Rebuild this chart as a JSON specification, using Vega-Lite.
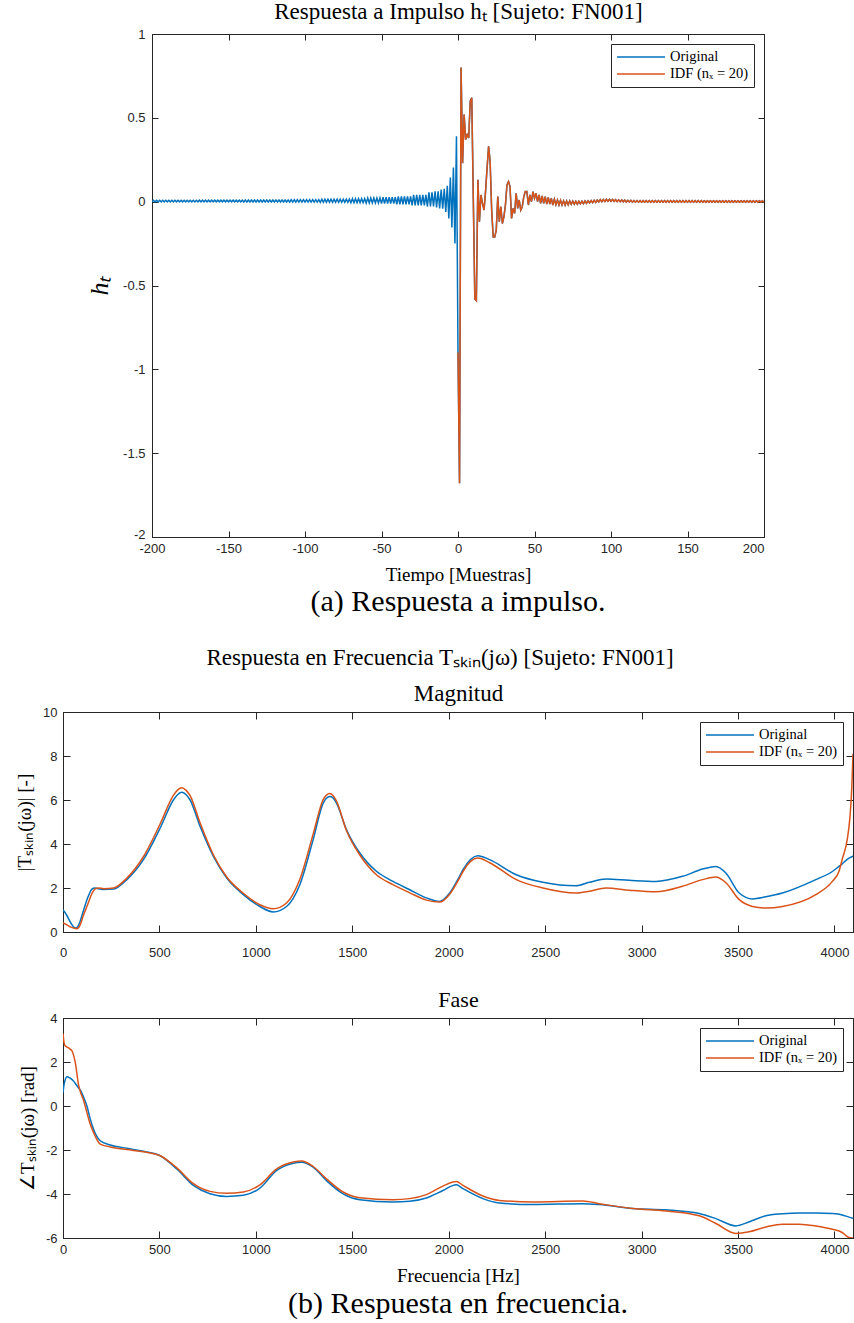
{
"$schema": "https://vega.github.io/schema/vega-lite/v6.json",
"padding": {"left": 15, "top": 0, "right": 0, "bottom": 0},
"background": "white",
"center": true,
"spacing": 28,
"datasets": {
"imp": [
{"t":-200,"o":-0.001},{"t":-199,"o":0.008},{"t":-198,"o":-0.001},{"t":-197,"o":0.008},{"t":-196,"o":-0.001},{"t":-195,"o":0.008},{"t":-194,"o":-0.001},{"t":-193,"o":0.008},{"t":-192,"o":-0.001},{"t":-191,"o":0.008},
{"t":-190,"o":-0.001},{"t":-189,"o":0.008},{"t":-188,"o":-0.001},{"t":-187,"o":0.008},{"t":-186,"o":-0.001},{"t":-185,"o":0.008},{"t":-184,"o":-0.001},{"t":-183,"o":0.008},{"t":-182,"o":-0.001},{"t":-181,"o":0.008},
{"t":-180,"o":-0.001},{"t":-179,"o":0.008},{"t":-178,"o":-0.001},{"t":-177,"o":0.008},{"t":-176,"o":-0.001},{"t":-175,"o":0.008},{"t":-174,"o":-0.001},{"t":-173,"o":0.008},{"t":-172,"o":-0.001},{"t":-171,"o":0.008},
{"t":-170,"o":-0.001},{"t":-169,"o":0.009},{"t":-168,"o":-0.001},{"t":-167,"o":0.009},{"t":-166,"o":-0.001},{"t":-165,"o":0.009},{"t":-164,"o":-0.001},{"t":-163,"o":0.009},{"t":-162,"o":-0.001},{"t":-161,"o":0.009},
{"t":-160,"o":-0.001},{"t":-159,"o":0.009},{"t":-158,"o":-0.001},{"t":-157,"o":0.009},{"t":-156,"o":-0.001},{"t":-155,"o":0.009},{"t":-154,"o":-0.001},{"t":-153,"o":0.009},{"t":-152,"o":-0.001},{"t":-151,"o":0.009},
{"t":-150,"o":-0.001},{"t":-149,"o":0.009},{"t":-148,"o":-0.001},{"t":-147,"o":0.009},{"t":-146,"o":-0.001},{"t":-145,"o":0.009},{"t":-144,"o":-0.001},{"t":-143,"o":0.009},{"t":-142,"o":-0.001},{"t":-141,"o":0.009},
{"t":-140,"o":-0.002},{"t":-139,"o":0.01},{"t":-138,"o":-0.002},{"t":-137,"o":0.01},{"t":-136,"o":-0.002},{"t":-135,"o":0.01},{"t":-134,"o":-0.002},{"t":-133,"o":0.01},{"t":-132,"o":-0.002},{"t":-131,"o":0.01},
{"t":-130,"o":-0.002},{"t":-129,"o":0.01},{"t":-128,"o":-0.002},{"t":-127,"o":0.01},{"t":-126,"o":-0.002},{"t":-125,"o":0.01},{"t":-124,"o":-0.002},{"t":-123,"o":0.01},{"t":-122,"o":-0.002},{"t":-121,"o":0.01},
{"t":-120,"o":-0.002},{"t":-119,"o":0.01},{"t":-118,"o":-0.002},{"t":-117,"o":0.01},{"t":-116,"o":-0.002},{"t":-115,"o":0.01},{"t":-114,"o":-0.002},{"t":-113,"o":0.01},{"t":-112,"o":-0.002},{"t":-111,"o":0.01},
{"t":-110,"o":-0.003},{"t":-109,"o":0.012},{"t":-108,"o":-0.003},{"t":-107,"o":0.012},{"t":-106,"o":-0.003},{"t":-105,"o":0.012},{"t":-104,"o":-0.003},{"t":-103,"o":0.012},{"t":-102,"o":-0.003},{"t":-101,"o":0.012},
{"t":-100,"o":-0.003},{"t":-99,"o":0.012},{"t":-98,"o":-0.003},{"t":-97,"o":0.012},{"t":-96,"o":-0.003},{"t":-95,"o":0.012},{"t":-94,"o":-0.003},{"t":-93,"o":0.012},{"t":-92,"o":-0.003},{"t":-91,"o":0.012},
{"t":-90,"o":-0.004},{"t":-89,"o":0.015},{"t":-88,"o":-0.004},{"t":-87,"o":0.015},{"t":-86,"o":-0.004},{"t":-85,"o":0.015},{"t":-84,"o":-0.004},{"t":-83,"o":0.015},{"t":-82,"o":-0.004},{"t":-81,"o":0.015},
{"t":-80,"o":-0.004},{"t":-79,"o":0.015},{"t":-78,"o":-0.004},{"t":-77,"o":0.015},{"t":-76,"o":-0.004},{"t":-75,"o":0.015},{"t":-74,"o":-0.004},{"t":-73,"o":0.015},{"t":-72,"o":-0.004},{"t":-71,"o":0.015},
{"t":-70,"o":-0.006},{"t":-69,"o":0.018},{"t":-68,"o":-0.006},{"t":-67,"o":0.018},{"t":-66,"o":-0.006},{"t":-65,"o":0.018},{"t":-64,"o":-0.006},{"t":-63,"o":0.018},{"t":-62,"o":-0.006},{"t":-61,"o":0.018},
{"t":-60,"o":-0.008},{"t":-59,"o":0.022},{"t":-58,"o":-0.008},{"t":-57,"o":0.022},{"t":-56,"o":-0.008},{"t":-55,"o":0.022},{"t":-54,"o":-0.008},{"t":-53,"o":0.022},{"t":-52,"o":-0.008},{"t":-51,"o":0.022},
{"t":-50,"o":-0.012},{"t":-49,"o":0.027},{"t":-48,"o":-0.012},{"t":-47,"o":0.027},{"t":-46,"o":-0.012},{"t":-45,"o":0.027},{"t":-44,"o":-0.012},{"t":-43,"o":0.027},{"t":-42,"o":-0.012},{"t":-41,"o":0.027},
{"t":-40,"o":-0.016},{"t":-39,"o":0.032},{"t":-38,"o":-0.016},{"t":-37,"o":0.032},{"t":-36,"o":-0.016},{"t":-35,"o":0.032},{"t":-34,"o":-0.016},{"t":-33,"o":0.032},{"t":-32,"o":-0.016},{"t":-31,"o":0.032},
{"t":-30,"o":-0.022},{"t":-29,"o":0.04},{"t":-28,"o":-0.022},{"t":-27,"o":0.04},{"t":-26,"o":-0.022},{"t":-25,"o":0.04},{"t":-24,"o":-0.022},{"t":-23,"o":0.04},{"t":-22,"o":-0.022},{"t":-21,"o":0.04},
{"t":-20,"o":-0.029},{"t":-19,"o":0.055},{"t":-18,"o":-0.029},{"t":-17,"o":0.055},{"t":-16,"o":-0.029},{"t":-15,"o":0.062},{"t":-14,"o":-0.035},{"t":-13,"o":0.062},{"t":-12,"o":-0.04},{"t":-11,"o":0.072},
{"t":-10,"o":-0.042},{"t":-9,"o":0.077},{"t":-8,"o":-0.062},{"t":-7,"o":0.094},{"t":-6,"o":-0.1},{"t":-5,"o":0.144},{"t":-4,"o":-0.154},{"t":-3,"o":0.204},{"t":-2,"o":-0.25},{"t":-1,"o":0.39},
{"t":0,"o":-0.9,"i":-0.9},{"t":1,"o":-1.68,"i":-1.68},{"t":2,"o":0.8,"i":0.8},{"t":3,"o":0.23,"i":0.23},{"t":4,"o":0.52,"i":0.52},{"t":5,"o":0.37,"i":0.37},{"t":6,"o":0.4,"i":0.4},{"t":7,"o":0.38,"i":0.38},{"t":8,"o":0.6,"i":0.6},{"t":9,"o":0.62,"i":0.62},
{"t":10,"o":0.02,"i":0.02},{"t":11,"o":-0.58,"i":-0.58},{"t":12,"o":-0.59,"i":-0.59},{"t":13,"o":0.13,"i":0.13},{"t":14,"o":-0.12,"i":-0.12},{"t":15,"o":0.04,"i":0.04},{"t":16,"o":-0.01,"i":-0.01},{"t":17,"o":-0.05,"i":-0.05},{"t":18,"o":0.06,"i":0.06},{"t":19,"o":0.2,"i":0.2},
{"t":20,"o":0.33,"i":0.33},{"t":21,"o":0.24,"i":0.24},{"t":22,"o":-0.05,"i":-0.05},{"t":23,"o":-0.21,"i":-0.21},{"t":24,"o":-0.21,"i":-0.21},{"t":25,"o":-0.17,"i":-0.17},{"t":26,"o":0.03,"i":0.03},{"t":27,"o":-0.12,"i":-0.12},{"t":28,"o":-0.03,"i":-0.03},{"t":29,"o":-0.13,"i":-0.13},
{"t":30,"o":-0.09,"i":-0.09},{"t":31,"o":-0.02,"i":-0.02},{"t":32,"o":0.1,"i":0.1},{"t":33,"o":0.12,"i":0.12},{"t":34,"o":0.09,"i":0.09},{"t":35,"o":-0.1,"i":-0.1},{"t":36,"o":-0.04,"i":-0.04},{"t":37,"o":-0.07,"i":-0.07},{"t":38,"o":0.05,"i":0.05},{"t":39,"o":-0.04,"i":-0.04},
{"t":40,"o":0.01,"i":0.01},{"t":41,"o":-0.05,"i":-0.05},{"t":42,"o":-0.03,"i":-0.03},{"t":43,"o":0.03,"i":0.03},{"t":44,"o":0.06,"i":0.06},{"t":45,"o":0.06,"i":0.06},{"t":46,"o":-0.02,"i":-0.02},{"t":47,"o":0.04,"i":0.04},{"t":48,"o":0,"i":0},{"t":49,"o":0.06,"i":0.06},
{"t":50,"o":0.02,"i":0.02},{"t":51,"o":0.05,"i":0.05},{"t":52,"o":0,"i":0},{"t":53,"o":0.04,"i":0.04},{"t":54,"o":-0.01,"i":-0.01},{"t":55,"o":0.035,"i":0.035},{"t":56,"o":-0.01,"i":-0.01},{"t":57,"o":0.03,"i":0.03},{"t":58,"o":-0.015,"i":-0.015},{"t":59,"o":0.025,"i":0.025},
{"t":60,"o":-0.015,"i":-0.015},{"t":61,"o":0.02,"i":0.02},{"t":62,"o":-0.02,"i":-0.02},{"t":63,"o":0.015,"i":0.015},{"t":64,"o":-0.018,"i":-0.018},{"t":65,"o":0.01,"i":0.01},{"t":66,"o":-0.02,"i":-0.02},{"t":67,"o":0.008,"i":0.008},{"t":68,"o":-0.02,"i":-0.02},{"t":69,"o":0.005,"i":0.005},
{"t":70,"o":-0.02,"i":-0.02},{"t":71,"o":0.004,"i":0.004},{"t":72,"o":-0.018,"i":-0.018},{"t":73,"o":0.004,"i":0.004},{"t":74,"o":-0.016,"i":-0.016},{"t":75,"o":0.003,"i":0.003},{"t":76,"o":-0.015,"i":-0.015},{"t":77,"o":0.002,"i":0.002},{"t":78,"o":-0.015,"i":-0.015},{"t":79,"o":0.002,"i":0.002},
{"t":80,"o":-0.013,"i":-0.013},{"t":81,"o":0.003,"i":0.003},{"t":82,"o":-0.012,"i":-0.012},{"t":83,"o":0.004,"i":0.004},{"t":84,"o":-0.01,"i":-0.01},{"t":85,"o":0.005,"i":0.005},{"t":86,"o":-0.008,"i":-0.008},{"t":87,"o":0.006,"i":0.006},{"t":88,"o":-0.006,"i":-0.006},{"t":89,"o":0.008,"i":0.008},
{"t":90,"o":-0.004,"i":-0.004},{"t":91,"o":0.01,"i":0.01},{"t":92,"o":-0.002,"i":-0.002},{"t":93,"o":0.012,"i":0.012},{"t":94,"o":0,"i":0},{"t":95,"o":0.013,"i":0.013},{"t":96,"o":0.001,"i":0.001},{"t":97,"o":0.014,"i":0.014},{"t":98,"o":0.002,"i":0.002},{"t":99,"o":0.014,"i":0.014},
{"t":100,"o":0.002,"i":0.002},{"t":101,"o":0.013,"i":0.013},{"t":102,"o":0.002,"i":0.002},{"t":103,"o":0.012,"i":0.012},{"t":104,"o":0.001,"i":0.001},{"t":105,"o":0.011,"i":0.011},{"t":106,"o":0,"i":0},{"t":107,"o":0.01,"i":0.01},{"t":108,"o":-0.001,"i":-0.001},{"t":109,"o":0.009,"i":0.009},
{"t":110,"o":-0.002,"i":-0.002},{"t":111,"o":0.008,"i":0.008},{"t":112,"o":-0.002,"i":-0.002},{"t":113,"o":0.008,"i":0.008},{"t":114,"o":-0.003,"i":-0.003},{"t":115,"o":0.007,"i":0.007},{"t":116,"o":-0.003,"i":-0.003},{"t":117,"o":0.007,"i":0.007},{"t":118,"o":-0.003,"i":-0.003},{"t":119,"o":0.006,"i":0.006},
{"t":120,"o":-0.003,"i":-0.003},{"t":121,"o":0.006,"i":0.006},{"t":122,"o":-0.003,"i":-0.003},{"t":123,"o":0.006,"i":0.006},{"t":124,"o":-0.003,"i":-0.003},{"t":125,"o":0.006,"i":0.006},{"t":126,"o":-0.003,"i":-0.003},{"t":127,"o":0.006,"i":0.006},{"t":128,"o":-0.003,"i":-0.003},{"t":129,"o":0.006,"i":0.006},
{"t":130,"o":-0.003,"i":-0.003},{"t":131,"o":0.006,"i":0.006},{"t":132,"o":-0.003,"i":-0.003},{"t":133,"o":0.006,"i":0.006},{"t":134,"o":-0.003,"i":-0.003},{"t":135,"o":0.006,"i":0.006},{"t":136,"o":-0.003,"i":-0.003},{"t":137,"o":0.006,"i":0.006},{"t":138,"o":-0.003,"i":-0.003},{"t":139,"o":0.006,"i":0.006},
{"t":140,"o":-0.003,"i":-0.003},{"t":141,"o":0.006,"i":0.006},{"t":142,"o":-0.003,"i":-0.003},{"t":143,"o":0.006,"i":0.006},{"t":144,"o":-0.003,"i":-0.003},{"t":145,"o":0.006,"i":0.006},{"t":146,"o":-0.003,"i":-0.003},{"t":147,"o":0.006,"i":0.006},{"t":148,"o":-0.003,"i":-0.003},{"t":149,"o":0.006,"i":0.006},
{"t":150,"o":-0.003,"i":-0.003},{"t":151,"o":0.006,"i":0.006},{"t":152,"o":-0.003,"i":-0.003},{"t":153,"o":0.006,"i":0.006},{"t":154,"o":-0.003,"i":-0.003},{"t":155,"o":0.006,"i":0.006},{"t":156,"o":-0.003,"i":-0.003},{"t":157,"o":0.006,"i":0.006},{"t":158,"o":-0.003,"i":-0.003},{"t":159,"o":0.006,"i":0.006},
{"t":160,"o":-0.003,"i":-0.003},{"t":161,"o":0.005,"i":0.005},{"t":162,"o":-0.003,"i":-0.003},{"t":163,"o":0.005,"i":0.005},{"t":164,"o":-0.003,"i":-0.003},{"t":165,"o":0.005,"i":0.005},{"t":166,"o":-0.003,"i":-0.003},{"t":167,"o":0.005,"i":0.005},{"t":168,"o":-0.003,"i":-0.003},{"t":169,"o":0.005,"i":0.005},
{"t":170,"o":-0.003,"i":-0.003},{"t":171,"o":0.005,"i":0.005},{"t":172,"o":-0.003,"i":-0.003},{"t":173,"o":0.005,"i":0.005},{"t":174,"o":-0.003,"i":-0.003},{"t":175,"o":0.005,"i":0.005},{"t":176,"o":-0.003,"i":-0.003},{"t":177,"o":0.005,"i":0.005},{"t":178,"o":-0.003,"i":-0.003},{"t":179,"o":0.005,"i":0.005},
{"t":180,"o":-0.003,"i":-0.003},{"t":181,"o":0.005,"i":0.005},{"t":182,"o":-0.003,"i":-0.003},{"t":183,"o":0.005,"i":0.005},{"t":184,"o":-0.003,"i":-0.003},{"t":185,"o":0.005,"i":0.005},{"t":186,"o":-0.003,"i":-0.003},{"t":187,"o":0.005,"i":0.005},{"t":188,"o":-0.003,"i":-0.003},{"t":189,"o":0.005,"i":0.005},
{"t":190,"o":-0.003,"i":-0.003},{"t":191,"o":0.005,"i":0.005},{"t":192,"o":-0.003,"i":-0.003},{"t":193,"o":0.005,"i":0.005},{"t":194,"o":-0.003,"i":-0.003},{"t":195,"o":0.005,"i":0.005},{"t":196,"o":-0.003,"i":-0.003},{"t":197,"o":0.005,"i":0.005},{"t":198,"o":-0.003,"i":-0.003},{"t":199,"o":0.005,"i":0.005},
{"t":200,"o":-0.003,"i":-0.003}
],
"mag": [
{"f":0,"mo":1.01,"mi":0.41},{"f":20,"mo":0.75,"mi":0.32},{"f":40,"mo":0.42,"mi":0.22},{"f":64,"mo":0.18,"mi":0.16},{"f":72,"mo":0.2,"mi":0.15},{"f":85,"mo":0.4,"mi":0.25},{"f":107,"mo":1.0,"mi":0.78},{"f":130,"mo":1.6,"mi":1.3},{"f":150,"mo":1.95,"mi":1.75},{"f":165,"mo":2.0,"mi":1.95},
{"f":185,"mo":1.97,"mi":2.0},{"f":210,"mo":1.93,"mi":1.97},{"f":262,"mo":1.95,"mi":2.0},{"f":331,"mo":2.38,"mi":2.45},{"f":417,"mo":3.29,"mi":3.42},{"f":504,"mo":4.73,"mi":4.92},{"f":573,"mo":6.01,"mi":6.22},{"f":595,"mo":6.25,"mi":6.46},{"f":616,"mo":6.35,"mi":6.56},{"f":637,"mo":6.25,"mi":6.45},
{"f":659,"mo":6.0,"mi":6.2},{"f":711,"mo":4.8,"mi":4.95},{"f":780,"mo":3.44,"mi":3.5},{"f":849,"mo":2.45,"mi":2.5},{"f":935,"mo":1.7,"mi":1.76},{"f":1021,"mo":1.16,"mi":1.24},{"f":1090,"mo":0.91,"mi":1.06},{"f":1159,"mo":1.16,"mi":1.32},{"f":1228,"mo":2.15,"mi":2.4},{"f":1297,"mo":4.2,"mi":4.45},
{"f":1349,"mo":5.86,"mi":6.02},{"f":1366,"mo":6.08,"mi":6.22},{"f":1383,"mo":6.16,"mi":6.29},{"f":1400,"mo":6.1,"mi":6.2},{"f":1418,"mo":5.86,"mi":5.95},{"f":1470,"mo":4.65,"mi":4.6},{"f":1539,"mo":3.59,"mi":3.5},{"f":1625,"mo":2.76,"mi":2.6},{"f":1711,"mo":2.3,"mi":2.15},{"f":1798,"mo":1.92,"mi":1.78},
{"f":1884,"mo":1.55,"mi":1.45},{"f":1953,"mo":1.39,"mi":1.36},{"f":2005,"mo":1.77,"mi":1.72},{"f":2056,"mo":2.53,"mi":2.45},{"f":2074,"mo":2.83,"mi":2.75},{"f":2151,"mo":3.47,"mi":3.36},{"f":2212,"mo":3.29,"mi":3.15},{"f":2350,"mo":2.6,"mi":2.38},{"f":2488,"mo":2.26,"mi":2.0},{"f":2660,"mo":2.1,"mi":1.77},
{"f":2729,"mo":2.26,"mi":1.85},{"f":2816,"mo":2.41,"mi":2.0},{"f":2936,"mo":2.35,"mi":1.9},{"f":3074,"mo":2.3,"mi":1.83},{"f":3212,"mo":2.53,"mi":2.08},{"f":3316,"mo":2.86,"mi":2.38},{"f":3385,"mo":2.98,"mi":2.5},{"f":3437,"mo":2.68,"mi":2.24},{"f":3506,"mo":1.77,"mi":1.47},{"f":3575,"mo":1.5,"mi":1.16},
{"f":3644,"mo":1.6,"mi":1.09},{"f":3730,"mo":1.77,"mi":1.16},{"f":3903,"mo":2.38,"mi":1.7},{"f":3989,"mo":2.75,"mi":2.3},{"f":4023,"mo":2.98,"mi":2.75},{"f":4040,"mo":3.1,"mi":3.3},{"f":4066,"mo":3.3,"mi":4.2},{"f":4080,"mo":3.38,"mi":5.2},{"f":4090,"mo":3.42,"mi":6.6},{"f":4096,"mo":3.45,"mi":8.1}
],
"pha": [
{"f":0,"po":0.6,"pi":3.3},{"f":5,"po":0.95,"pi":2.9},{"f":10,"po":1.15,"pi":2.75},{"f":21,"po":1.33,"pi":2.68},{"f":35,"po":1.28,"pi":2.6},{"f":47,"po":1.2,"pi":2.5},{"f":55,"po":1.13,"pi":2.3},{"f":64,"po":1.02,"pi":1.96},{"f":81,"po":0.82,"pi":0.95},{"f":90,"po":0.72,"pi":0.65},
{"f":107,"po":0.4,"pi":0.25},{"f":124,"po":0.0,"pi":-0.3},{"f":140,"po":-0.55,"pi":-0.8},{"f":158,"po":-1.05,"pi":-1.2},{"f":193,"po":-1.58,"pi":-1.73},{"f":245,"po":-1.77,"pi":-1.86},{"f":331,"po":-1.92,"pi":-1.98},{"f":417,"po":-2.06,"pi":-2.08},{"f":504,"po":-2.26,"pi":-2.26},{"f":590,"po":-2.86,"pi":-2.81},
{"f":676,"po":-3.61,"pi":-3.53},{"f":762,"po":-3.99,"pi":-3.88},{"f":849,"po":-4.11,"pi":-3.97},{"f":935,"po":-4.06,"pi":-3.91},{"f":1021,"po":-3.73,"pi":-3.58},{"f":1108,"po":-2.93,"pi":-2.86},{"f":1194,"po":-2.6,"pi":-2.55},{"f":1237,"po":-2.56,"pi":-2.5},{"f":1297,"po":-2.78,"pi":-2.75},{"f":1366,"po":-3.39,"pi":-3.31},
{"f":1452,"po":-3.99,"pi":-3.91},{"f":1539,"po":-4.26,"pi":-4.17},{"f":1711,"po":-4.36,"pi":-4.26},{"f":1798,"po":-4.33,"pi":-4.21},{"f":1884,"po":-4.18,"pi":-4.03},{"f":1970,"po":-3.84,"pi":-3.64},{"f":2039,"po":-3.58,"pi":-3.43},{"f":2074,"po":-3.76,"pi":-3.61},{"f":2177,"po":-4.21,"pi":-4.09},{"f":2263,"po":-4.41,"pi":-4.29},
{"f":2436,"po":-4.48,"pi":-4.36},{"f":2695,"po":-4.44,"pi":-4.32},{"f":2781,"po":-4.48,"pi":-4.44},{"f":2953,"po":-4.66,"pi":-4.66},{"f":3126,"po":-4.72,"pi":-4.77},{"f":3299,"po":-4.89,"pi":-4.99},{"f":3385,"po":-5.12,"pi":-5.34},{"f":3489,"po":-5.45,"pi":-5.79},{"f":3557,"po":-5.27,"pi":-5.72},{"f":3644,"po":-4.99,"pi":-5.5},
{"f":3730,"po":-4.9,"pi":-5.37},{"f":3816,"po":-4.86,"pi":-5.37},{"f":3903,"po":-4.86,"pi":-5.45},{"f":3989,"po":-4.89,"pi":-5.6},{"f":4040,"po":-4.95,"pi":-5.75},{"f":4075,"po":-5.05,"pi":-5.98},{"f":4096,"po":-5.1,"pi":-6.0}
]
},
"vconcat": [
{
"width": 612, "height": 503,
"data": {"name": "imp"},
"title": {"text": "(a) Respuesta a impulso.", "orient": "bottom", "frame": "group", "anchor": "middle", "fontSize": 30, "offset": 3},
"layer": [
{"mark": {"type": "line", "strokeWidth": 1.5, "clip": true},
 "encoding": {
  "x": {"field": "t", "type": "quantitative", "scale": {"domain": [-200, 200], "nice": false, "zero": false},
        "axis": {"orient": "bottom", "values": [-200,-150,-100,-50,0,50,100,150,200], "tickSize": -6, "labelPadding": 11, "labelFlush": false,
                 "labelExpr": "replace(datum.label, '\u2212', '-')",
                 "labelAlign": {"condition": {"test": "datum.value == 200", "value": "right"}, "value": "center"},
                 "title": "Tiempo [Muestras]", "titlePadding": 10}},
  "y": {"field": "o", "type": "quantitative", "scale": {"domain": [-2, 1], "nice": false, "zero": false},
        "axis": {"orient": "left", "values": [-2,-1.5,-1,-0.5,0,0.5,1], "format": "~g", "tickSize": -6, "labelPadding": 13,
                 "labelOffset": {"condition": {"test": "datum.value == -2", "value": -3}, "value": 0},
                 "labelExpr": "replace(datum.label, '\u2212', '-')",
                 "title": "hₜ", "titleFontStyle": "italic", "titleFontSize": 26, "titlePadding": 10}},
  "color": {"datum": "Original", "type": "nominal", "scale": {"domain": ["Original", "IDF (nₓ = 20)"], "range": ["#0072BD", "#D95319"]}, "legend": {"title": null}}
 }},
{"mark": {"type": "line", "strokeWidth": 1.5, "clip": true},
 "encoding": {
  "x": {"field": "t", "type": "quantitative",
        "axis": {"orient": "top", "values": [-200,-150,-100,-50,0,50,100,150,200], "tickSize": -6, "labels": false,
                 "title": "Respuesta a Impulso hₜ [Sujeto: FN001]", "titleFontSize": 23, "titlePadding": 10}},
  "y": {"field": "i", "type": "quantitative",
        "axis": {"orient": "right", "values": [-2,-1.5,-1,-0.5,0,0.5,1], "tickSize": -6, "labels": false, "title": null}},
  "color": {"datum": "IDF (nₓ = 20)", "type": "nominal"}
 }}
],
"resolve": {"axis": {"x": "independent", "y": "independent"}}
},
{
"width": 790, "height": 220,
"data": {"name": "mag"},
"title": {"text": "Respuesta en Frecuencia Tₛₖᵢₙ(jω) [Sujeto: FN001]", "orient": "top", "frame": "group", "anchor": "middle", "fontSize": 23, "offset": 13, "dx": -18},
"layer": [
{"mark": {"type": "line", "strokeWidth": 1.5, "clip": true, "interpolate": "monotone"},
 "encoding": {
  "x": {"field": "f", "type": "quantitative", "scale": {"domain": [0, 4096], "nice": false, "zero": false},
        "axis": {"orient": "bottom", "values": [0,500,1000,1500,2000,2500,3000,3500,4000], "format": "d", "tickSize": -7, "labelPadding": 21, "labelFlush": false, "title": null}},
  "y": {"field": "mo", "type": "quantitative", "scale": {"domain": [0, 10], "nice": false},
        "axis": {"orient": "left", "values": [0,2,4,6,8,10], "tickSize": -7, "labelPadding": 13, "title": "|Tₛₖᵢₙ(jω)| [-]", "titlePadding": 8}},
  "color": {"datum": "Original", "type": "nominal", "scale": {"domain": ["Original", "IDF (nₓ = 20)"], "range": ["#0072BD", "#D95319"]}, "legend": {"title": null}}
 }},
{"mark": {"type": "line", "strokeWidth": 1.5, "clip": true, "interpolate": "monotone"},
 "encoding": {
  "x": {"field": "f", "type": "quantitative",
        "axis": {"orient": "top", "values": [0,500,1000,1500,2000,2500,3000,3500,4000], "tickSize": -7, "labels": false, "title": "Magnitud", "titleFontSize": 23, "titlePadding": 6}},
  "y": {"field": "mi", "type": "quantitative",
        "axis": {"orient": "right", "values": [0,2,4,6,8,10], "tickSize": -7, "labels": false, "title": null}},
  "color": {"datum": "IDF (nₓ = 20)", "type": "nominal"}
 }}
],
"resolve": {"axis": {"x": "independent", "y": "independent"}}
},
{
"width": 790, "height": 220,
"data": {"name": "pha"},
"title": {"text": "(b) Respuesta en frecuencia.", "orient": "bottom", "frame": "group", "anchor": "middle", "fontSize": 30, "offset": 4},
"layer": [
{"mark": {"type": "line", "strokeWidth": 1.5, "clip": true, "interpolate": "monotone"},
 "encoding": {
  "x": {"field": "f", "type": "quantitative", "scale": {"domain": [0, 4096], "nice": false, "zero": false},
        "axis": {"orient": "bottom", "values": [0,500,1000,1500,2000,2500,3000,3500,4000], "format": "d", "tickSize": -7, "labelPadding": 12, "labelFlush": false, "title": "Frecuencia [Hz]", "titlePadding": 10}},
  "y": {"field": "po", "type": "quantitative", "scale": {"domain": [-6, 4], "nice": false, "zero": false},
        "axis": {"orient": "left", "values": [-6,-4,-2,0,2,4], "tickSize": -7, "labelPadding": 13,
                 "labelExpr": "replace(datum.label, '\u2212', '-')", "title": "∠Tₛₖᵢₙ(jω) [rad]", "titlePadding": 8}},
  "color": {"datum": "Original", "type": "nominal", "scale": {"domain": ["Original", "IDF (nₓ = 20)"], "range": ["#0072BD", "#D95319"]}, "legend": {"title": null}}
 }},
{"mark": {"type": "line", "strokeWidth": 1.5, "clip": true, "interpolate": "monotone"},
 "encoding": {
  "x": {"field": "f", "type": "quantitative",
        "axis": {"orient": "top", "values": [0,500,1000,1500,2000,2500,3000,3500,4000], "tickSize": -7, "labels": false, "title": "Fase", "titleFontSize": 22, "titlePadding": 6}},
  "y": {"field": "pi", "type": "quantitative",
        "axis": {"orient": "right", "values": [-6,-4,-2,0,2,4], "tickSize": -7, "labels": false, "title": null}},
  "color": {"datum": "IDF (nₓ = 20)", "type": "nominal"}
 }}
],
"resolve": {"axis": {"x": "independent", "y": "independent"}}
}
],
"resolve": {"scale": {"color": "independent"}, "legend": {"color": "independent"}},
"config": {
 "view": {"stroke": "#262626", "strokeWidth": 1},
 "axis": {"grid": false, "domainColor": "#262626", "domainWidth": 1, "tickColor": "#262626", "tickWidth": 1, "labelColor": "#262626", "labelFont": "Liberation Sans", "labelFontSize": 13, "titleFont": "Liberation Serif", "titleFontWeight": "normal", "titleColor": "black", "titleFontSize": 19},
 "legend": {"orient": "top-right", "offset": 10, "strokeColor": "#262626", "fillColor": "white", "padding": 5, "symbolType": "stroke", "symbolSize": 2300, "symbolStrokeWidth": 1.5, "labelFont": "Liberation Serif", "labelFontSize": 14.5, "labelColor": "black", "rowPadding": 1, "clipHeight": 16, "labelOffset": 4, "cornerRadius": 0},
 "title": {"font": "Liberation Serif", "fontWeight": "normal", "color": "black"}
}
}
